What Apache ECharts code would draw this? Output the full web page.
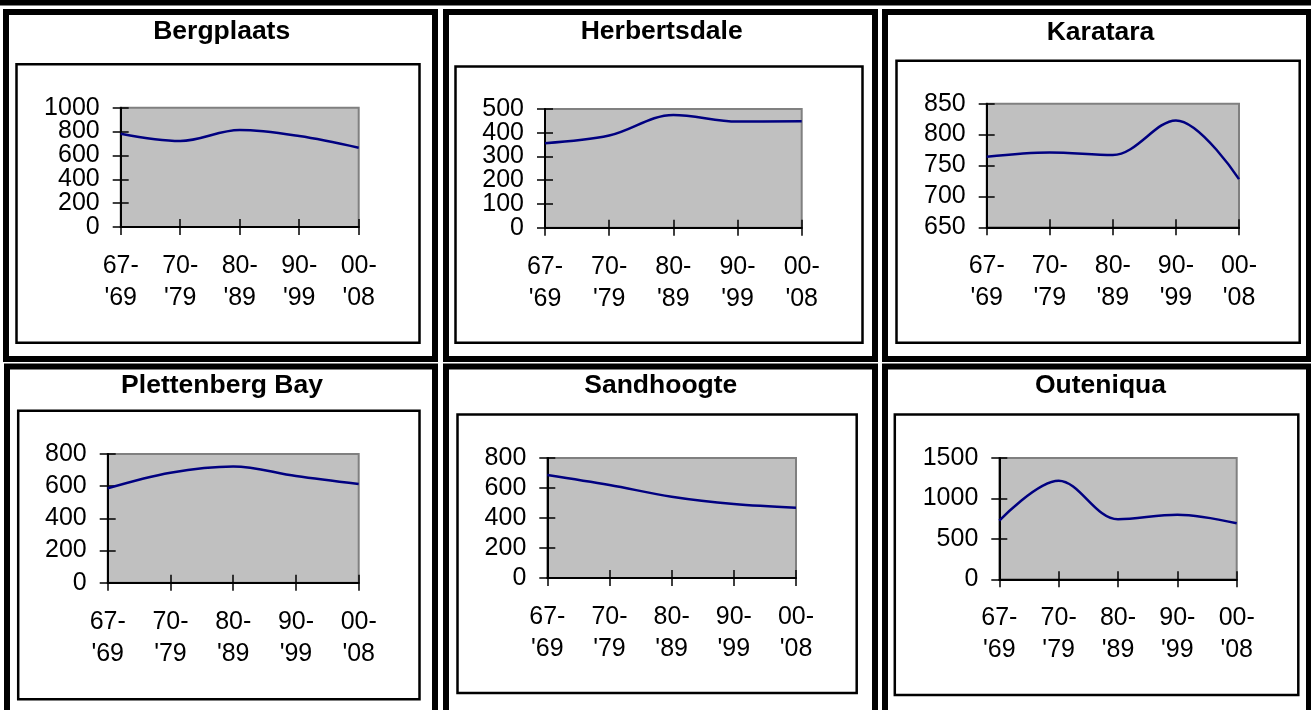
<!DOCTYPE html>
<html>
<head>
<meta charset="utf-8">
<script src="https://cdn.jsdelivr.net/npm/echarts@6/dist/echarts.min.js"></script>
<style>
html,body{margin:0;padding:0;background:#fff;}
#c{width:1311px;height:710px;}
</style>
</head>
<body>
<div id="c"></div>
<script>
// ---- data ----
const categories = ["67-'69", "70-'79", "80-'89", "90-'99", "00-'08"];
const stationNames = ["Bergplaats", "Herbertsdale", "Karatara", "Plettenberg Bay", "Sandhoogte", "Outeniqua"];
const bergplaats = [782, 721, 813, 763, 665];
const herbertsdale = [356, 388, 475, 447, 448];
const karatara = [764, 771, 767, 823, 728];
const plettenbergBay = [587, 684, 723, 663, 613];
const sandhoogte = [687, 620, 542, 493, 469];
const outeniqua = [725, 1219, 742, 799, 692];
// y-axis scales: [min, max, interval]
const yScales = [[0, 1000, 200], [0, 500, 100], [650, 850, 50], [0, 800, 200], [0, 800, 200], [0, 1500, 500]];

const seriesData = [bergplaats, herbertsdale, karatara, plettenbergBay, sandhoogte, outeniqua];

// ---- layout ----
const FONT = '"Liberation Sans", Arial, sans-serif';
const plots = [
  [120.7, 107.7, 238, 119.3],
  [545, 109, 256.7, 118.7],
  [986.7, 103.7, 252.3, 123.6],
  [107.7, 454, 251, 128.7],
  [547.3, 458, 248.7, 120],
  [999.3, 458, 237.4, 121.3]
];
const titlePos = [[221.7, 31.5], [661.7, 32], [1100.5, 32.3], [222, 386], [660.8, 386], [1100.5, 386]];
const innerBoxes = [
  [16.5, 64.2, 419.5, 342.8],
  [455.5, 66.5, 862.5, 342.7],
  [896.5, 60.8, 1299.7, 342.8],
  [18.2, 410.8, 419.5, 699.2],
  [457.5, 414.5, 856.7, 693],
  [894.8, 414.5, 1298.3, 695]
];
const cells = [
  [6, 12, 435, 359], [446, 12, 875, 359], [885, 12, 1309, 359],
  [7, 366.5, 435, 780], [446, 366.5, 875, 780], [885, 366.5, 1309, 780]
];

const grids = [], xAxes = [], yAxes = [], series = [], titles = [], graphics = [];

graphics.push({type: 'rect', shape: {x: 0, y: 0, width: 1311, height: 5.5}, style: {fill: '#000'}});
cells.forEach(c => graphics.push({
  type: 'rect', shape: {x: c[0], y: c[1], width: c[2] - c[0], height: c[3] - c[1]},
  style: {fill: 'none', stroke: '#000', lineWidth: 6}
}));
innerBoxes.forEach(b => graphics.push({
  type: 'rect', shape: {x: b[0], y: b[1], width: b[2] - b[0], height: b[3] - b[1]},
  style: {fill: 'none', stroke: '#000', lineWidth: 2.5}
}));

for (let i = 0; i < 6; i++) {
  const p = plots[i];
  const s = yScales[i];
  grids.push({
    left: p[0], top: p[1], width: p[2], height: p[3],
    show: true, backgroundColor: '#c0c0c0', borderColor: '#808080', borderWidth: 2,
    containLabel: false, outerBoundsMode: 'none'
  });
  titles.push({
    text: stationNames[i], left: titlePos[i][0], top: titlePos[i][1],
    textAlign: 'center', textVerticalAlign: 'middle', padding: 0,
    textStyle: {fontSize: 26.5, fontWeight: 'bold', color: '#000', fontFamily: FONT}
  });
  // main x axis (outside ticks + labels)
  xAxes.push({
    type: 'category', gridIndex: i, data: categories, boundaryGap: false, position: 'bottom',
    axisLine: {show: true, onZero: false, lineStyle: {color: '#000', width: 2}},
    axisTick: {show: true, inside: false, length: 8, interval: 0, lineStyle: {color: '#000', width: 1.5}},
    axisLabel: {
      show: true, interval: 0, margin: 23, fontSize: 25, lineHeight: 32, color: '#000', fontFamily: FONT,
      hideOverlap: false, showMinLabel: true, showMaxLabel: true,
      formatter: v => v.replace('-', '-\n')
    },
    splitLine: {show: false}
  });
  // second x axis for inside half of cross ticks
  xAxes.push({
    type: 'category', gridIndex: i, data: categories, boundaryGap: false, position: 'bottom',
    axisLine: {show: false, onZero: false},
    axisTick: {show: true, inside: true, length: 8, interval: 0, lineStyle: {color: '#000', width: 1.5}},
    axisLabel: {show: false}, splitLine: {show: false}
  });
  // y labels split over two axes (even/odd ticks) so none get hidden as overlapping
  const parity = (v, odd) => {
    const k = Math.round((v - s[0]) / s[2]);
    return (k % 2 === 1) === odd ? String(v) : '';
  };
  const yLabelBase = {margin: 21, fontSize: 25, color: '#000', fontFamily: FONT, hideOverlap: false, showMinLabel: true, showMaxLabel: true};
  yAxes.push({
    type: 'value', gridIndex: i, min: s[0], max: s[1], interval: s[2], position: 'left',
    axisLine: {show: true, onZero: false, lineStyle: {color: '#000', width: 2}},
    axisTick: {show: true, inside: false, length: 8, lineStyle: {color: '#000', width: 1.5}},
    axisLabel: Object.assign({show: true, formatter: v => parity(v, false)}, yLabelBase),
    splitLine: {show: false}
  });
  yAxes.push({
    type: 'value', gridIndex: i, min: s[0], max: s[1], interval: s[2], position: 'left',
    axisLine: {show: false, onZero: false},
    axisTick: {show: true, inside: true, length: 8, lineStyle: {color: '#000', width: 1.5}},
    axisLabel: Object.assign({show: true, formatter: v => parity(v, true)}, yLabelBase),
    splitLine: {show: false}
  });
  yAxes.push({
    type: 'value', gridIndex: i, min: s[0], max: s[1], interval: s[2], position: 'left',
    axisLine: {show: false, onZero: false},
    axisTick: {show: true, inside: false, length: 8, lineStyle: {color: '#000', width: 1.5}},
    axisLabel: {show: false}, splitLine: {show: false}
  });
  series.push({
    type: 'line', xAxisIndex: i * 2, yAxisIndex: i * 3, data: seriesData[i],
    smooth: 0.35, symbol: 'none', lineStyle: {color: '#000080', width: 2.5}, z: 5
  });
}

const chart = echarts.init(document.getElementById('c'), null, {renderer: 'canvas'});
chart.setOption({
  animation: false,
  backgroundColor: '#fff',
  title: titles,
  grid: grids,
  xAxis: xAxes,
  yAxis: yAxes,
  series: series,
  graphic: {elements: graphics}
});
</script>
</body>
</html>
